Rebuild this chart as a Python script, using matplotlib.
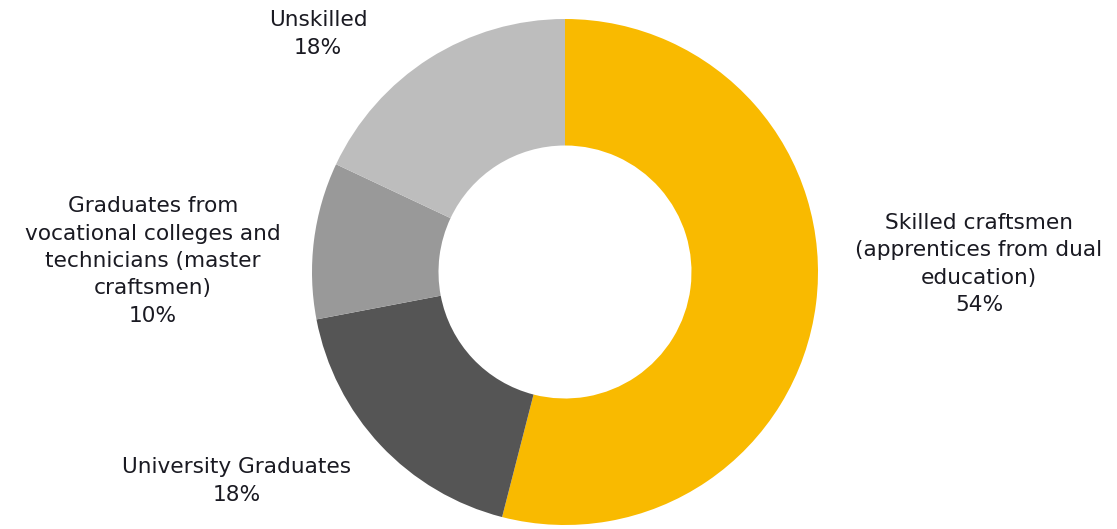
import matplotlib
matplotlib.use("Agg")
import matplotlib.pyplot as plt

categories = ["Skilled craftsmen\n(apprentices from dual\neducation)",
              "University Graduates",
              "Graduates from\nvocational colleges and\ntechnicians (master\ncraftsmen)",
              "Unskilled"]
values = [54, 18, 10, 18]
colors = ["#F9BA00", "#555555", "#999999", "#BDBDBD"]

W, H = 1117, 529
fig = plt.figure(figsize=(W / 100, H / 100), dpi=100)
ax = fig.add_axes([0, 0, 1, 1])

cx, cy, R = 565, H - 272, 253
ax.pie(values, colors=colors, startangle=90, counterclock=False,
       radius=R, center=(cx, cy), frame=True,
       wedgeprops=dict(width=R * 0.5, edgecolor="none", linewidth=0))
ax.set_xlim(0, W)
ax.set_ylim(0, H)
ax.set_aspect("equal")
ax.axis("off")

# label centres (pixel layout)
label_pos = [(979, 264), (237, 481), (153, 261), (318, 34)]
for cat, v, (x, y) in zip(categories, values, label_pos):
    ax.text(x, H - y, f"{cat}\n{v}%", ha="center", va="center",
            fontsize=15.6, color="#1a1a22", linespacing=1.46,
            family="DejaVu Sans")

fig.savefig("out.png", dpi=100)
